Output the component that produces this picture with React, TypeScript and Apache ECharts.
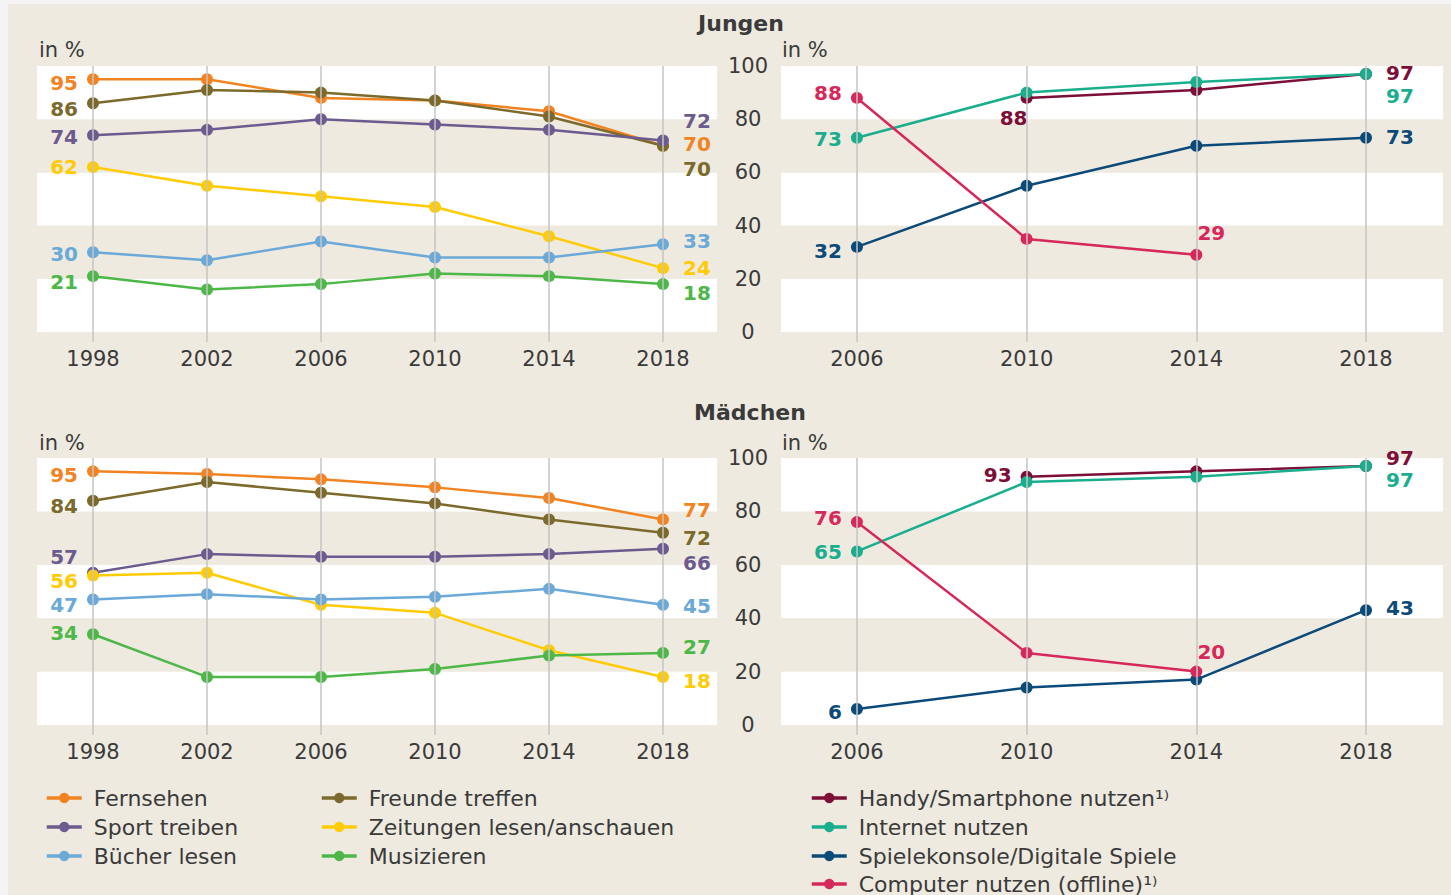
import React, { useEffect, useRef } from "react";
import * as echarts from "echarts";

// ---------- data ----------
const yearsLeft = [1998, 2002, 2006, 2010, 2014, 2018];
const yearsRight = [2006, 2010, 2014, 2018];

const leftNames = ["Fernsehen", "Freunde treffen", "Sport treiben", "Zeitungen lesen/anschauen", "Bücher lesen", "Musizieren"];
const rightNames = ["Handy/Smartphone nutzen¹⁾", "Internet nutzen", "Spielekonsole/Digitale Spiele", "Computer nutzen (offline)¹⁾"];

// Jungen – Freizeitaktivitäten
const jFernsehen = [95, 95, 88, 87, 83, 70];
const jFreunde = [86, 91, 90, 87, 81, 70];
const jSport = [74, 76, 80, 78, 76, 72];
const jZeitungen = [62, 55, 51, 47, 36, 24];
const jBuecher = [30, 27, 34, 28, 28, 33];
const jMusizieren = [21, 16, 18, 22, 21, 18];
// Jungen – Medien
const jHandy = [null, 88, 91, 97];
const jInternet = [73, 90, 94, 97];
const jSpiele = [32, 55, 70, 73];
const jComputer = [88, 35, 29, null];

// Mädchen – Freizeitaktivitäten
const mFernsehen = [95, 94, 92, 89, 85, 77];
const mFreunde = [84, 91, 87, 83, 77, 72];
const mSport = [57, 64, 63, 63, 64, 66];
const mZeitungen = [56, 57, 45, 42, 28, 18];
const mBuecher = [47, 49, 47, 48, 51, 45];
const mMusizieren = [34, 18, 18, 21, 26, 27];
// Mädchen – Medien
const mHandy = [null, 93, 95, 97];
const mInternet = [65, 91, 93, 97];
const mSpiele = [6, 14, 17, 43];
const mComputer = [76, 27, 20, null];

const yTicks = [0, 20, 40, 60, 80, 100];

// ---------- styles ----------
const FONT = "DejaVu Sans";
const TEXT = "#3a3a3a";
const BEIGE = "#eeeae0";
const GRIDLINE = "#c4c4c4";
const leftColors = ["#f28322", "#7b6a2c", "#6b5b8e", "#ffcb05", "#6aa9d8", "#4db848"];
const rightColors = ["#7c0e38", "#19ae8d", "#0b4a79", "#d6285a"];

// label placement: [dx, dy, align] relative to the point, for first / last labelled point
const L = -15;
const R = 20;
type Lbl = [number, number, string];
const lblJL: Lbl[][] = [
  [[L, 4, "right"], [R, -2, "left"]],
  [[L, 6, "right"], [R, 23, "left"]],
  [[L, 2, "right"], [R, -19, "left"]],
  [[L, 0, "right"], [R, 0, "left"]],
  [[L, 2, "right"], [R, -3, "left"]],
  [[L, 6, "right"], [R, 9, "left"]],
];
const lblJR: Lbl[][] = [
  [[-13, 20, "center"], [R, -1, "left"]],
  [[L, 1, "right"], [R, 22, "left"]],
  [[L, 4, "right"], [R, -1, "left"]],
  [[L, -5, "right"], [15, -22, "center"]],
];
const lblML: Lbl[][] = [
  [[L, 4, "right"], [R, -9, "left"]],
  [[L, 5, "right"], [R, 5, "left"]],
  [[L, -16, "right"], [R, 14, "left"]],
  [[L, 6, "right"], [R, 4, "left"]],
  [[L, 5, "right"], [R, 1, "left"]],
  [[L, -1, "right"], [R, -6, "left"]],
];
const lblMR: Lbl[][] = [
  [[L, -2, "right"], [R, -8, "left"]],
  [[L, 1, "right"], [R, 14, "left"]],
  [[L, 3, "right"], [R, -2, "left"]],
  [[L, -4, "right"], [15, -20, "center"]],
];

function makeSeries(name: string, years: number[], values: (number | null)[], axis: number, color: string, lbl: Lbl[]) {
  const idx = values.map((v, i) => (v == null ? -1 : i)).filter((i) => i >= 0);
  const first = idx[0];
  const last = idx[idx.length - 1];
  const data = idx.map((i) => {
    const item: any = { value: [years[i], values[i]] };
    const l = i === first ? lbl[0] : i === last ? lbl[1] : null;
    if (l) {
      item.label = {
        show: true,
        position: "inside",
        offset: [l[0], l[1]],
        align: l[2],
        verticalAlign: "middle",
        color,
        fontFamily: FONT,
        fontWeight: "bold",
        fontSize: 20,
        textBorderWidth: 0,
        formatter: String(values[i]),
      };
    }
    return item;
  });
  return {
    type: "line",
    name,
    xAxisIndex: axis,
    yAxisIndex: axis,
    data,
    z: 3,
    color,
    symbol: "circle",
    symbolSize: 12,
    showSymbol: true,
    lineStyle: { color, width: 2.5 },
    itemStyle: { color },
    label: { show: false },
    emphasis: { disabled: true },
  };
}

function gridLineSeries(axis: number, years: number[]) {
  return {
    type: "line",
    name: "_grid" + axis,
    xAxisIndex: axis,
    yAxisIndex: axis,
    data: [],
    z: 1,
    silent: true,
    markLine: {
      silent: true,
      symbol: "none",
      animation: false,
      label: { show: false },
      lineStyle: { color: GRIDLINE, width: 1.5, type: "solid" },
      emphasis: { disabled: true },
      data: years.map((y) => ({ xAxis: y })),
    },
  };
}

function xAxis(grid: number, years: number[], min: number, max: number) {
  return {
    type: "value",
    gridIndex: grid,
    min,
    max,
    axisLine: { show: false },
    splitLine: { show: false },
    axisTick: { show: true, customValues: years, length: 10, lineStyle: { color: GRIDLINE, width: 1.5 } },
    axisLabel: {
      customValues: years,
      color: TEXT,
      fontFamily: FONT,
      fontSize: 21,
      margin: 16,
      formatter: (v: number) => String(v),
    },
  };
}

function yAxis(grid: number, showLabels: boolean) {
  return {
    type: "value",
    gridIndex: grid,
    min: yTicks[0],
    max: yTicks[yTicks.length - 1],
    interval: 20,
    axisLine: { show: false },
    axisTick: { show: false },
    splitLine: { show: false },
    splitArea: { show: true, areaStyle: { color: ["#ffffff", BEIGE] } },
    axisLabel: {
      show: showLabels,
      color: TEXT,
      fontFamily: FONT,
      fontSize: 21,
      align: "center",
      margin: 33,
    },
  };
}

export default function App() {
  const ref = useRef<HTMLDivElement>(null);
  useEffect(() => {
    if (!ref.current) return;
    const chart = echarts.init(ref.current, null, { renderer: "svg" });

    const jl = [jFernsehen, jFreunde, jSport, jZeitungen, jBuecher, jMusizieren];
    const jr = [jHandy, jInternet, jSpiele, jComputer];
    const ml = [mFernsehen, mFreunde, mSport, mZeitungen, mBuecher, mMusizieren];
    const mr = [mHandy, mInternet, mSpiele, mComputer];

    const series: any[] = [
      gridLineSeries(0, yearsLeft),
      gridLineSeries(1, yearsRight),
      gridLineSeries(2, yearsLeft),
      gridLineSeries(3, yearsRight),
    ];
    jl.forEach((v, i) => series.push(makeSeries(leftNames[i], yearsLeft, v, 0, leftColors[i], lblJL[i])));
    jr.forEach((v, i) => series.push(makeSeries(rightNames[i], yearsRight, v, 1, rightColors[i], lblJR[i])));
    ml.forEach((v, i) => series.push(makeSeries(leftNames[i], yearsLeft, v, 2, leftColors[i], lblML[i])));
    mr.forEach((v, i) => series.push(makeSeries(rightNames[i], yearsRight, v, 3, rightColors[i], lblMR[i])));

    const legendBase = {
      orient: "vertical",
      top: 787,
      itemWidth: 35,
      itemHeight: 13,
      itemGap: 7,
      padding: 0,
      selectedMode: false,
      lineStyle: { width: 3.5 },
      textStyle: { color: TEXT, fontFamily: FONT, fontSize: 22, lineHeight: 22, padding: [0, 0, 0, 7] },
    };

    const txt = (x: number, y: number, text: string, bold = false, align = "left", size = 21) => ({
      type: "text",
      x,
      y,
      silent: true,
      style: {
        text,
        fill: TEXT,
        font: `${bold ? "bold " : ""}${size}px '${FONT}'`,
        textAlign: align,
        textVerticalAlign: "middle",
      },
    });

    chart.setOption({
      animation: false,
      backgroundColor: "#f4f4f4",
      textStyle: { fontFamily: FONT },
      graphic: [
        { type: "rect", z: -10, silent: true, shape: { x: 8, y: 4, width: 1443, height: 891 }, style: { fill: BEIGE } },
        txt(741, 23, "Jungen", true, "center", 22),
        txt(750, 412, "Mädchen", true, "center", 22),
        txt(39, 50, "in %"),
        txt(782, 50, "in %"),
        txt(39, 443, "in %"),
        txt(782, 443, "in %"),
      ],
      grid: [
        { left: 37, top: 66, width: 680, height: 266 },
        { left: 781, top: 66, width: 662, height: 266 },
        { left: 37, top: 458, width: 680, height: 267 },
        { left: 781, top: 458, width: 662, height: 267 },
      ],
      xAxis: [
        xAxis(0, yearsLeft, 1996.035, 2019.895),
        xAxis(1, yearsRight, 2004.21, 2019.815),
        xAxis(2, yearsLeft, 1996.035, 2019.895),
        xAxis(3, yearsRight, 2004.21, 2019.815),
      ],
      yAxis: [yAxis(0, false), yAxis(1, true), yAxis(2, false), yAxis(3, true)],
      legend: [
        { ...legendBase, left: 45, data: [leftNames[0], leftNames[2], leftNames[4]] },
        { ...legendBase, left: 320, data: [leftNames[1], leftNames[3], leftNames[5]] },
        { ...legendBase, left: 810, data: rightNames.slice(0, 3) },
        { ...legendBase, left: 810, top: 873, data: rightNames.slice(3) },
      ],
      series,
    });
    return () => chart.dispose();
  }, []);
  return <div ref={ref} style={{ position: "fixed", left: 0, top: 0, width: 1451, height: 895 }} />;
}
